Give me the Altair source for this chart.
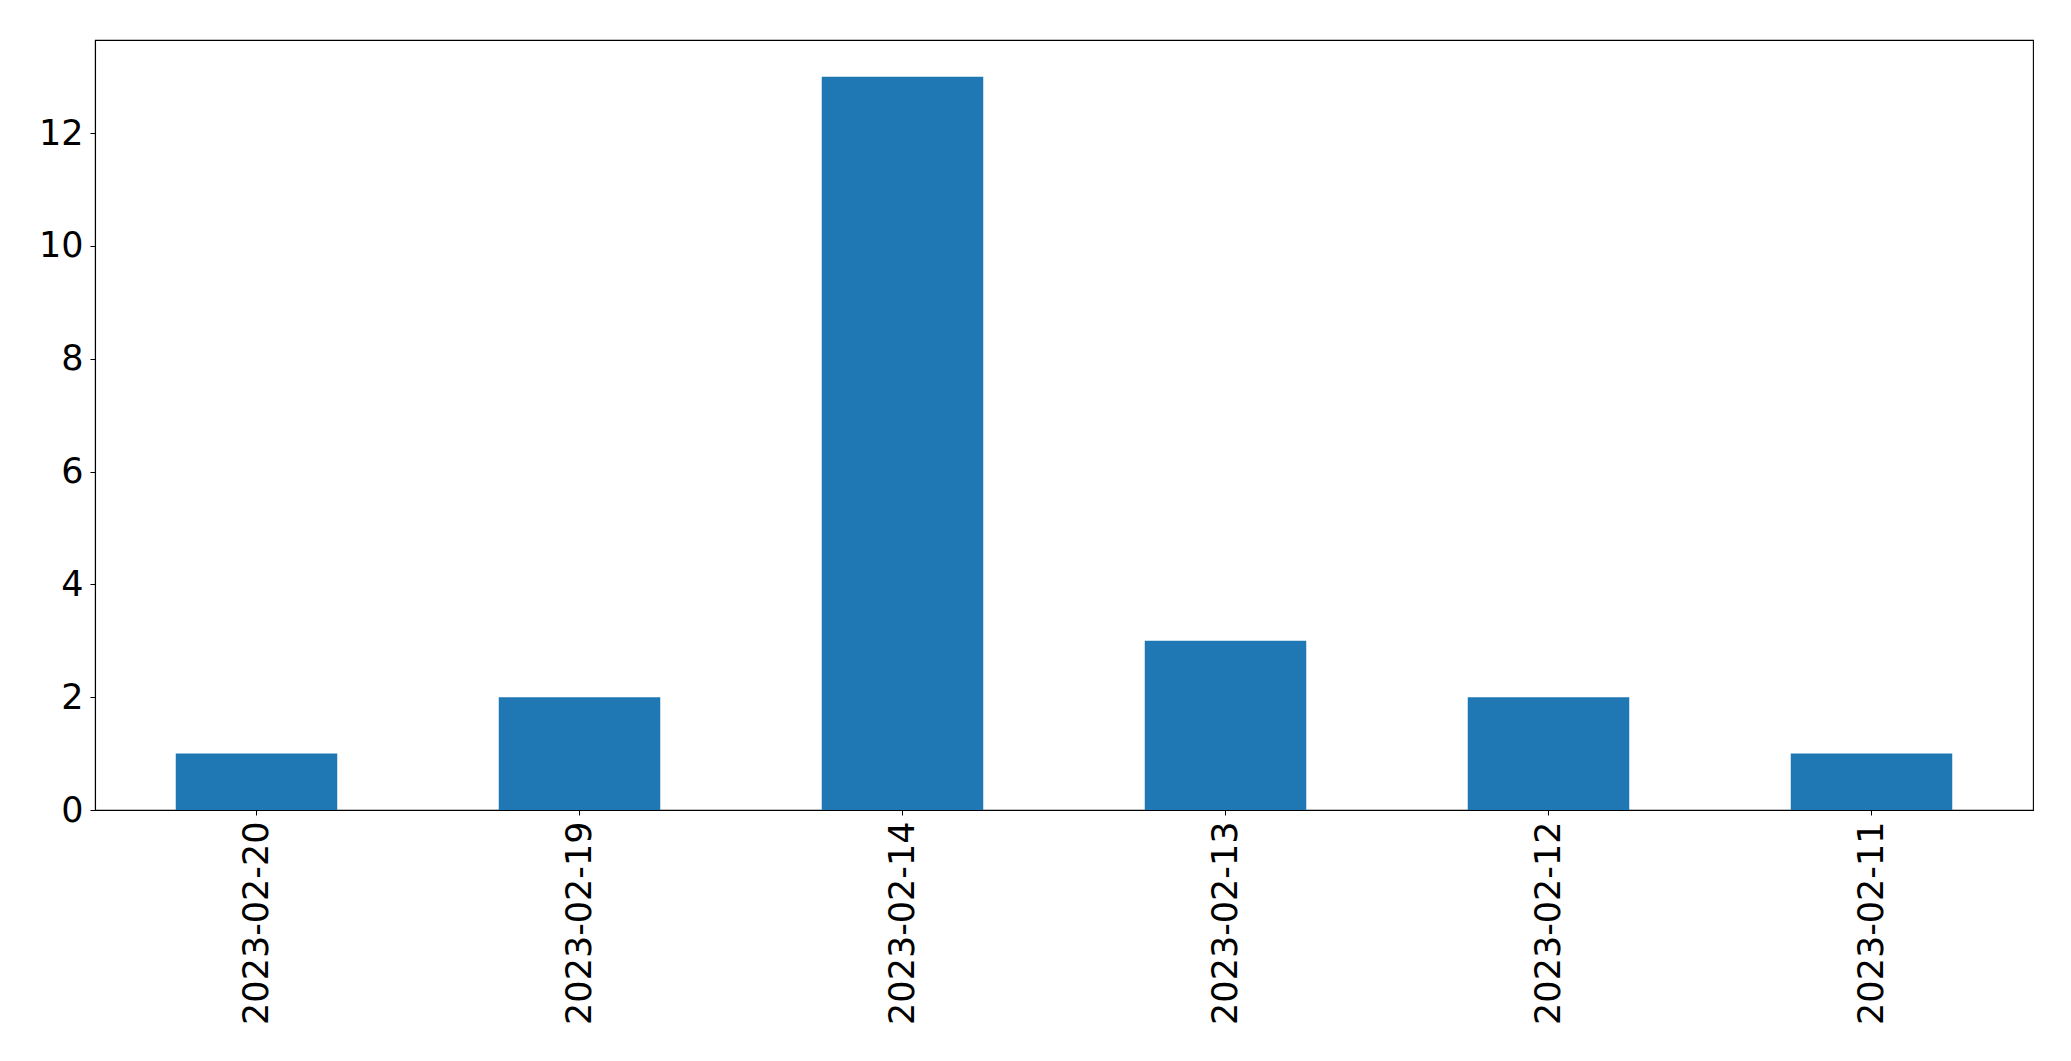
import altair as alt
import pandas as pd

dates = ["2023-02-20", "2023-02-19", "2023-02-14", "2023-02-13", "2023-02-12", "2023-02-11"]
counts = [1, 2, 13, 3, 2, 1]
y_ticks = [0, 2, 4, 6, 8, 10, 12]

df = pd.DataFrame({"date": dates, "count": counts})

chart = alt.Chart(df).mark_bar(color="#1f77b4").encode(
    x=alt.X("date:N", sort=dates, title=None,
            scale=alt.Scale(paddingInner=0.5, paddingOuter=0.25),
            axis=alt.Axis(labelAngle=270, labelAlign="right", labelBaseline="middle",
                          labelFont="DejaVu Sans", labelFontSize=35, labelColor="black",
                          tickSize=5, tickColor="black", domainColor="black",
                          labelPadding=6, tickWidth=1, labelLimit=500, labelOverlap=False)),
    y=alt.Y("count:Q", title=None,
            scale=alt.Scale(domain=[0, 13.65], nice=False, zero=True),
            axis=alt.Axis(values=y_ticks, grid=False, labelFont="DejaVu Sans",
                          labelFontSize=35, labelColor="black", tickSize=5,
                          tickColor="black", domainColor="black", labelPadding=7,
                          tickWidth=1, labelLimit=500)),
).properties(
    width=1938, height=770,
    autosize=alt.AutoSizeParams(type="none"),
    padding={"left": 87, "top": 32, "right": 28, "bottom": 240},
).configure_view(stroke="black", strokeWidth=1.1).configure_axis(domainWidth=1.1)

chart.save("out.html", embed_options={"renderer": "svg", "actions": False})
